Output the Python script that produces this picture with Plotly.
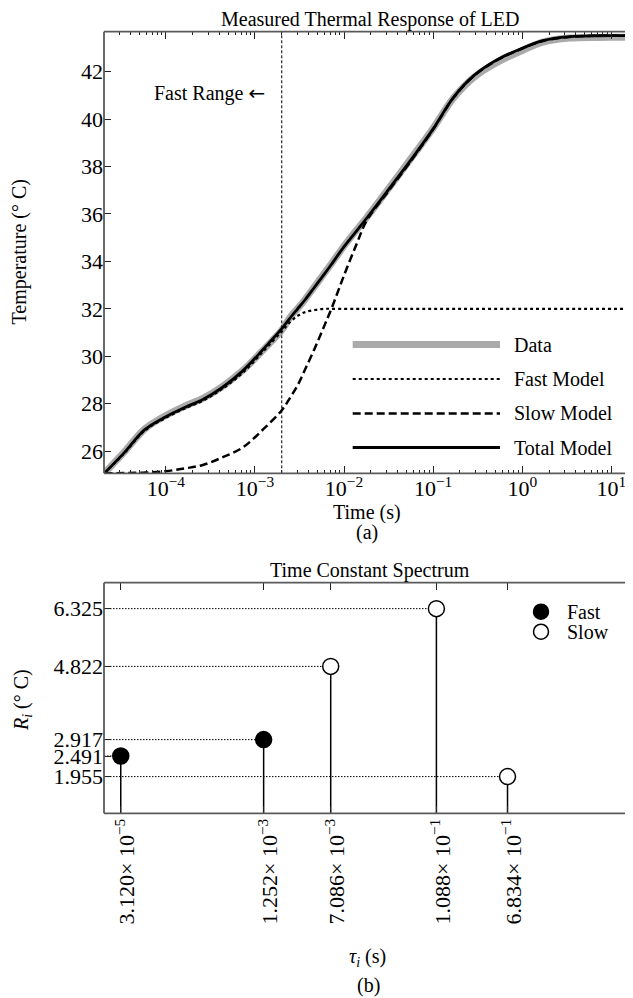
import plotly.graph_objects as go

# ---------------- data ----------------
# (a) Measured thermal response
time_s = [2.04e-5, 3.4e-5, 5.8e-5, 1.0e-4, 1.65e-4, 2.6e-4, 4.3e-4, 7.3e-4, 1.25e-3,
          2.0e-3, 2.5e-3, 3.0e-3, 3.6e-3, 4.7e-3, 6.0e-3, 7.2e-3, 1.0e-2, 1.4e-2,
          1.8e-2, 3.2e-2, 6.0e-2, 0.1, 0.17, 0.29, 0.54, 1.0, 1.7, 3.4, 6.9, 17.5]
data_T = [25.06, 25.95, 26.93, 27.50, 27.90, 28.22, 28.72, 29.40, 30.28, 31.10,
          31.66, 32.00, 32.37, 32.95, 33.50, 33.90, 34.65, 35.35, 35.86, 37.10,
          38.48, 39.62, 40.90, 41.78, 42.42, 42.90, 43.25, 43.42, 43.45, 43.45]
fast_T = [25.06, 25.90, 26.86, 27.40, 27.80, 28.12, 28.62, 29.30, 30.22, 31.05,
          31.45, 31.70, 31.85, 31.95, 32.00, 32.00, 32.00, 32.00, 32.00, 32.00,
          32.00, 32.00, 32.00, 32.00, 32.00, 32.00, 32.00, 32.00, 32.00, 32.00]
slow_T = [25.06, 25.07, 25.09, 25.15, 25.27, 25.41, 25.73, 26.15, 26.93, 27.72,
          28.27, 28.76, 29.39, 30.34, 31.28, 31.99, 33.41, 34.78, 35.73, 37.00,
          38.38, 39.57, 40.91, 41.84, 42.52, 42.98, 43.30, 43.47, 43.52, 43.52]
total_T = [25.06, 25.92, 26.90, 27.45, 27.85, 28.17, 28.68, 29.38, 30.31, 31.16,
           31.63, 31.99, 32.35, 32.93, 33.46, 33.87, 34.62, 35.31, 35.83, 37.06,
           38.42, 39.59, 40.93, 41.86, 42.54, 42.99, 43.31, 43.48, 43.52, 43.52]
fast_range_s = 2.0e-3
x_ticks_a = [1e-4, 1e-3, 1e-2, 1e-1, 1e0, 1e1]
x_ticktext_a = ["10<sup>−4</sup>", "10<sup>−3</sup>", "10<sup>−2</sup>",
                "10<sup>−1</sup>", "10<sup>0</sup>", "10<sup>1</sup>"]
y_ticks_a = [26, 28, 30, 32, 34, 36, 38, 40, 42]

# (b) Time constant spectrum
tau_s = [3.120e-5, 1.252e-3, 7.086e-3, 1.088e-1, 6.834e-1]
tau_mant = ["3.120", "1.252", "7.086", "1.088", "6.834"]
tau_exp = ["−5", "−3", "−3", "−1", "−1"]
R_vals = [2.491, 2.917, 4.822, 6.325, 1.955]
kinds = ["Fast", "Fast", "Slow", "Slow", "Slow"]

# axis ranges (log10 for x)
x_log_range = [-4.694, 1.243]
y_range_a = [25.06, 43.69]
y_range_b = [1.0, 7.0]

FONT = "Liberation Serif"
FS = 20
TFS = 22
# the page body has an 8px margin: the figure starts at (8, 8) in the window
OFF = 8
W, H = 633 - OFF, 998 - OFF
ML = 104 - OFF
PW = W - ML

def px(xp):  # window pixel x -> paper x
    return (xp - OFF - ML) / PW

def py(yp):  # window pixel y -> paper y
    return 1 - (yp - OFF) / H

fig = go.Figure()

# ---- top panel traces ----
fig.add_trace(go.Scatter(x=time_s, y=data_T, mode="lines", line=dict(color="#aaaaaa", width=7, shape="spline"),
                         showlegend=False, xaxis="x", yaxis="y"))
fig.add_trace(go.Scatter(x=time_s, y=fast_T, mode="lines",
                         line=dict(color="black", width=2.2, dash="3px,3px", shape="spline"),
                         showlegend=False, xaxis="x", yaxis="y"))
fig.add_trace(go.Scatter(x=time_s, y=slow_T, mode="lines",
                         line=dict(color="black", width=2.5, dash="8px,4px", shape="spline"),
                         showlegend=False, xaxis="x", yaxis="y"))
fig.add_trace(go.Scatter(x=time_s, y=total_T, mode="lines",
                         line=dict(color="black", width=2.8, shape="spline"),
                         showlegend=False, xaxis="x", yaxis="y"))
fig.add_trace(go.Scatter(x=[fast_range_s, fast_range_s], y=y_range_a, mode="lines",
                         line=dict(color="black", width=1, dash="3px,2px"),
                         showlegend=False, xaxis="x", yaxis="y"))

# ---- bottom panel traces ----
x_left = 10 ** x_log_range[0]
gx, gy, sx, sy = [], [], [], []
for t, r in zip(tau_s, R_vals):
    gx += [x_left, t, None]
    gy += [r, r, None]
    sx += [t, t, None]
    sy += [y_range_b[0], r, None]
fig.add_trace(go.Scatter(x=gx, y=gy, mode="lines", line=dict(color="black", width=1, dash="1.5px,1.5px"),
                         showlegend=False, xaxis="x2", yaxis="y2"))
fig.add_trace(go.Scatter(x=sx, y=sy, mode="lines", line=dict(color="black", width=1.5),
                         showlegend=False, xaxis="x2", yaxis="y2"))
for kind, fill in [("Fast", "black"), ("Slow", "white")]:
    xs = [t for t, k in zip(tau_s, kinds) if k == kind]
    ys = [r for r, k in zip(R_vals, kinds) if k == kind]
    fig.add_trace(go.Scatter(x=xs, y=ys, mode="markers",
                             marker=dict(size=16, color=fill, line=dict(color="black", width=1.5)),
                             showlegend=False, xaxis="x2", yaxis="y2"))

# minor ticks for log axis
minor_vals = []
for e in range(-5, 2):
    for m in range(2, 10):
        v = m * 10 ** e
        if x_left <= v <= 10 ** x_log_range[1]:
            minor_vals.append(v)

axis_common = dict(showgrid=False, zeroline=False, showline=False, ticks="inside",
                   tickcolor="#222", tickwidth=1, ticklen=7, mirror="ticks",
                   tickfont=dict(family=FONT, size=TFS, color="black"))

dom_a = [py(473.3), py(31.7)]
dom_b = [py(813.3), py(582.7)]

fig.update_layout(
    width=W, height=H, margin=dict(l=ML, r=0, t=0, b=0),
    paper_bgcolor="white", plot_bgcolor="white",
    font=dict(family=FONT, size=FS, color="black"),
    showlegend=False,
    xaxis=dict(type="log", range=x_log_range, domain=[0, 1], anchor="y",
               tickmode="array", tickvals=x_ticks_a, ticktext=x_ticktext_a,
               minor=dict(tickmode="array", tickvals=minor_vals, ticks="inside",
                          ticklen=3.5, tickcolor="#222", tickwidth=1, showgrid=False),
               **axis_common),
    yaxis=dict(range=y_range_a, domain=dom_a, anchor="x",
               tickmode="array", tickvals=y_ticks_a, **axis_common),
    xaxis2=dict(type="log", range=x_log_range, domain=[0, 1], anchor="y2",
                tickmode="array", tickvals=tau_s,
                ticktext=[f"{m}× 10<sup>{e}</sup>" for m, e in zip(tau_mant, tau_exp)],
                tickangle=-90, ticklabelshift=6, **axis_common),
    yaxis2=dict(range=y_range_b, domain=dom_b, anchor="x2",
                tickmode="array", tickvals=R_vals, ticktext=[f"{r:.3f}" for r in R_vals],
                **axis_common),
)

shapes = []
# spines (left, top, bottom) for both panels
for xr, yr in [("x domain", "y domain"), ("x2 domain", "y2 domain")]:
    for (x0, y0, x1, y1) in [(0, 0, 0, 1), (0, 1, 1, 1), (0, 0, 1, 0)]:
        shapes.append(dict(type="line", xref=xr, yref=yr, x0=x0, y0=y0, x1=x1, y1=y1,
                           line=dict(color="#5a5a5a", width=1.8), layer="above"))

# top legend (manual, long samples)
leg_items = [("Data", 344.5, dict(color="#aaaaaa", width=7)),
             ("Fast Model", 379, dict(color="black", width=2.2, dash="3px,3px")),
             ("Slow Model", 413.5, dict(color="black", width=2.5, dash="8px,4px")),
             ("Total Model", 447.5, dict(color="black", width=2.8))]
annotations = []
for name, yy, ln in leg_items:
    shapes.append(dict(type="line", xref="paper", yref="paper", x0=px(352.7), x1=px(500),
                       y0=py(yy), y1=py(yy), line=ln))
    annotations.append(dict(text=name, xref="paper", yref="paper", x=px(512), y=py(yy),
                            xanchor="left", yanchor="middle", showarrow=False,
                            font=dict(family=FONT, size=FS)))

# bottom legend
for name, yy, fill in [("Fast", 611.7, "black"), ("Slow", 631.7, "white")]:
    shapes.append(dict(type="circle", xref="paper", yref="paper", xsizemode="pixel", ysizemode="pixel",
                       xanchor=px(541), yanchor=py(yy), x0=-7.5, x1=7.5, y0=-7.5, y1=7.5,
                       fillcolor=fill, line=dict(color="black", width=1.5)))
    annotations.append(dict(text=name, xref="paper", yref="paper", x=px(565), y=py(yy),
                            xanchor="left", yanchor="middle", showarrow=False,
                            font=dict(family=FONT, size=FS)))

def ann(text, xp, yp, angle=0, xanchor="center"):
    annotations.append(dict(text=text, xref="paper", yref="paper", x=px(xp), y=py(yp),
                            xanchor=xanchor, yanchor="middle", showarrow=False, textangle=angle,
                            font=dict(family=FONT, size=FS)))

ann("Measured Thermal Response of LED", 369.5, 20)
ann("Fast Range <span style=\"font-family:'DejaVu Sans'\">←</span>", 266.7, 93.3, xanchor="right")
ann("Time (s)", 367, 513)
ann("(a)", 367, 532)
ann("Temperature (° C)", 19, 252.5, angle=-90)
ann("Time Constant Spectrum", 370, 570)
ann("<i>R<sub>i</sub></i> (° C)", 22, 700, angle=-90)
ann("<i>τ<sub>i</sub></i> (s)", 367, 957)
ann("(b)", 368, 985)

fig.update_layout(shapes=shapes, annotations=annotations)
fig.write_html("out.html")
